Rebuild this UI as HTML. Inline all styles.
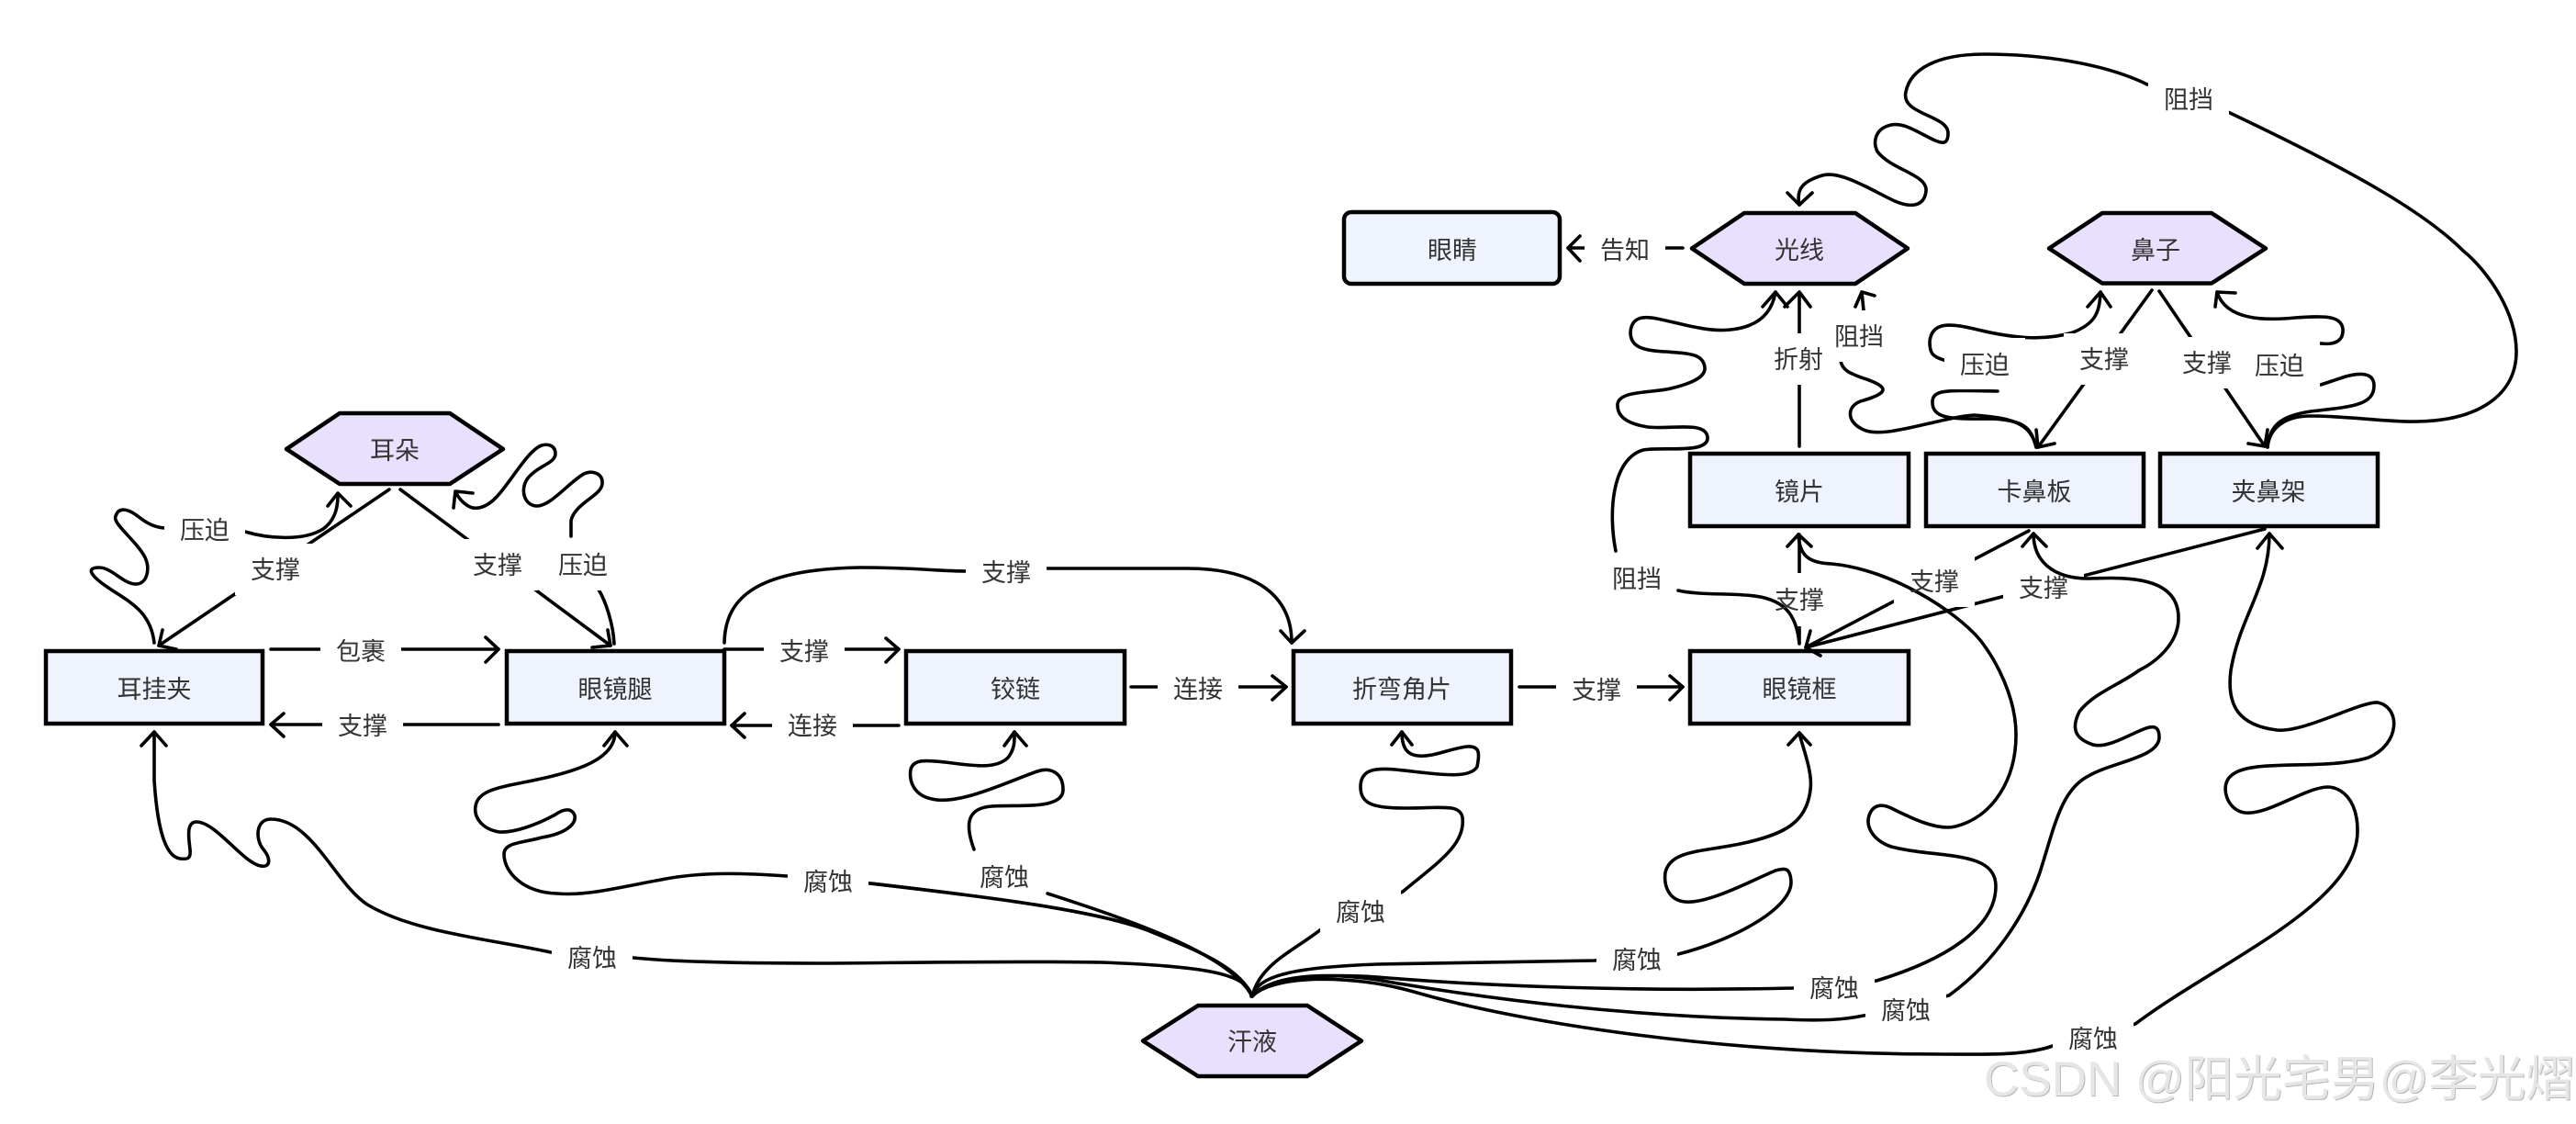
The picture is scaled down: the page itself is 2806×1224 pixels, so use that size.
<!DOCTYPE html>
<html><head><meta charset="utf-8">
<style>
html,body{margin:0;padding:0;background:#fff;width:2806px;height:1224px;overflow:hidden}
svg{display:block}
.e{fill:none;stroke:#000;stroke-width:3.6;stroke-linecap:round;stroke-linejoin:round}
.r{fill:#eff3fe;stroke:#000;stroke-width:4.5}
.h{fill:#e8e0fd;stroke:#000;stroke-width:4.5;stroke-linejoin:round}
text{font-family:"Liberation Sans","Noto Sans CJK SC",sans-serif;font-size:27px;fill:#333;text-anchor:middle}
.b{fill:#fff}
</style></head><body>
<svg width="2806" height="1224" viewBox="0 0 2806 1224" xmlns="http://www.w3.org/2000/svg">
<rect width="2806" height="1224" fill="#fff"/>
<g id="nodes">
<rect class="r" x="50" y="709" width="236" height="79"/>
<rect class="r" x="552" y="709" width="237" height="79"/>
<rect class="r" x="987" y="709" width="238" height="79"/>
<rect class="r" x="1409" y="709" width="237" height="79"/>
<rect class="r" x="1841" y="709" width="238" height="79"/>
<rect class="r" x="1841" y="494" width="238" height="79"/>
<rect class="r" x="2098" y="494" width="237" height="79"/>
<rect class="r" x="2353" y="494" width="237" height="79"/>
<rect class="r" x="1464" y="231" width="235" height="78" rx="8"/>
<polygon class="h" points="312,489 370,450 490,450 548,489 490,527 370,527"/>
<polygon class="h" points="1843,270.5 1900,232 2021,232 2078,270.5 2021,309 1900,309"/>
<polygon class="h" points="2232,270.5 2290,232 2409,232 2468,270.5 2409,308.5 2290,308.5"/>
<polygon class="h" points="1245,1133.5 1305,1095 1424,1095 1483,1133.5 1424,1172 1305,1172"/>
</g>
<g id="edges" class="e">
<path d="M168,700 C164,665 140,655 118,640 C100,628 92,618 108,618 C122,618 134,636 148,636 C160,636 164,620 158,607 C148,588 122,570 126,562 C130,550 142,556 150,562 C160,570 168,574 179,575 C200,578 240,572 267,579 C290,586 330,590 352,576 C366,566 368,550 368,540"/>
<path d="M357,551 L368,537 L382,551"/>
<path d="M424,533 L173,703"/><path d="M177,686 L173,703 L192,707"/>
<path d="M436,533 L665,703"/><path d="M662,686 L665,703 L645,705"/>
<path d="M669,701 C668,680 660,655 652,642 M622,584 L622,567 C626,548 655,540 656,527 C657,515 645,512 636,516 C620,525 600,551 585,551 C572,551 566,535 574,522 C585,507 605,505 605,494 C605,485 597,483 590,485 C575,490 555,527 541,541 C530,553 518,556 510,551 C503,547 498,540 497,536"/>
<path d="M494,553 L496,535 L515,537"/>
<path d="M295,707 L543,707"/><path d="M529,694 L543,707 L529,721"/>
<path d="M543,789 L295,789"/><path d="M309,777 L295,789 L309,802"/>
<path d="M789,707 L979,707"/><path d="M965,695 L979,707 L965,721"/>
<path d="M979,790 L797,790"/><path d="M811,777 L797,790 L811,803"/>
<path d="M1232,748 L1401,748"/><path d="M1386,736 L1401,748 L1386,762"/>
<path d="M1655,748 L1833,748"/><path d="M1819,736 L1833,748 L1819,762"/>
<path d="M789,700 C790,650 825,620 936,618 C1000,618 1020,622 1052,622 L1140,619 L1293,619 C1370,619 1407,650 1407,700"/>
<path d="M1395,687 L1407,700 L1421,687"/>
<path d="M2470,487 C2472,465 2490,453 2517,453 C2560,453 2600,460 2633,459 C2700,458 2741,430 2741,383 C2741,340 2710,295 2683,273 C2640,230 2560,185 2427,122 M2339,92 C2290,68 2220,59 2162,59 C2110,59 2081,75 2076,100 C2070,125 2122,125 2122,145 C2122,158 2115,156 2108,153 C2090,145 2075,133 2060,136 C2042,140 2040,155 2045,165 C2060,185 2100,190 2098,208 C2096,226 2080,226 2064,219 C2040,208 2005,185 1985,191 C1965,197 1956,205 1960,223"/>
<path d="M1947,210 L1960,223 L1974,210"/>
<path d="M1760,600 C1752,560 1755,500 1790,490 C1810,486 1862,495 1860,476 C1858,458 1820,468 1795,465 C1775,462 1761,455 1762,440 C1764,425 1800,428 1820,423 C1845,417 1858,410 1857,400 C1855,385 1840,385 1815,383 C1790,382 1776,378 1776,362 C1777,345 1790,344 1805,347 C1830,352 1860,362 1885,359 C1925,355 1932,330 1934,318"/>
<path d="M1920,334 L1934,318 L1947,334"/>
<path d="M1960,486 L1960,318"/><path d="M1944,334 L1960,318 L1972,334"/>
<path d="M2218,487 C2212,460 2190,455 2150,452 C2110,455 2050,480 2028,467 C2010,458 2012,440 2030,436 C2050,430 2055,425 2048,420 C2035,410 2005,410 2005,391 M2030,338 L2028,318"/>
<path d="M2021,334 L2028,318 L2042,322"/>
<path d="M2218,487 C2212,465 2205,458 2170,456 C2130,456 2104,458 2105,437 C2106,424 2120,425 2176,426 M2117,392 C2105,388 2102,385 2102,372 C2104,350 2125,352 2150,358 C2190,368 2225,372 2258,362 C2283,352 2287,340 2288,318"/>
<path d="M2274,334 L2288,318 L2299,334"/>
<path d="M2344,316 L2220,487"/><path d="M2218,468 L2220,487 L2238,483"/>
<path d="M2352,317 L2467,486"/><path d="M2449,483 L2467,486 L2470,468"/>
<path d="M2470,487 C2472,460 2490,452 2517,448 C2560,443 2586,442 2586,420 C2586,405 2570,406 2555,410 L2528,419 M2528,374 C2545,376 2553,370 2552,358 C2550,343 2530,344 2500,346 C2470,349 2425,350 2415,318"/>
<path d="M2413,334 L2415,318 L2435,319"/>
<path d="M1833,270 L1708,270"/><path d="M1721,257 L1708,270 L1721,284"/>
<path d="M1960,582 L1960,700"/>
<path d="M2210,578 L1967,705"/>
<path d="M2467,576 L1967,705"/>
<path d="M1972,687 L1967,705 L1983,714"/>
<path d="M1363,1085 C1360,1060 1310,1052 1200,1048 C1100,1046 950,1049 893,1049 C800,1049 730,1047 690,1043 L600,1037 C530,1022 450,1015 400,985 C365,962 340,892 295,892 C278,892 278,915 287,925 C295,935 295,945 284,943 C265,940 235,895 214,895 C202,895 206,915 207,925 C208,935 205,936 196,935 C175,932 170,880 168,850 L168,797"/>
<path d="M154,812 L168,797 L181,812"/>
<path d="M1364,1085 C1350,1050 1290,1030 1250,1013 C1190,990 1060,975 948,962 L857,954 C800,950 760,950 720,958 C680,965 640,976 607,973 C570,972 549,950 549,930 C549,917 570,918 590,912 C615,908 628,898 626,888 C623,880 615,880 605,887 C585,898 560,907 544,906 C525,903 516,890 518,878 C520,862 540,858 570,852 C620,842 670,830 670,797"/>
<path d="M658,812 L670,797 L683,812"/>
<path d="M1364,1085 C1340,1040 1240,1005 1141,973 M1061,925 C1050,895 1055,880 1080,878 C1110,876 1158,882 1158,860 C1158,842 1145,835 1130,840 C1105,848 1045,878 1015,870 C995,866 990,850 992,838 C995,826 1010,828 1030,830 C1060,834 1085,838 1098,825 C1106,815 1105,805 1105,797"/>
<path d="M1094,812 L1105,797 L1118,812"/>
<path d="M1364,1085 C1372,1050 1410,1035 1439,1012 L1528,971 C1565,940 1597,920 1593,890 C1590,875 1570,880 1530,880 C1495,880 1482,875 1482,857 C1482,838 1497,836 1520,838 C1560,842 1600,850 1609,835 C1612,820 1612,812 1598,813 C1580,815 1560,825 1545,823 C1530,822 1527,810 1527,797"/>
<path d="M1516,811 L1527,797 L1538,811"/>
<path d="M1364,1085 C1370,1060 1420,1053 1500,1050 L1737,1046 L1828,1039 C1885,1025 1952,990 1951,960 C1950,945 1945,945 1934,948 C1910,958 1860,985 1835,982 C1818,980 1812,965 1814,950 C1820,925 1855,928 1900,918 C1945,908 1968,895 1972,860 C1975,840 1962,810 1960,798"/>
<path d="M1948,811 L1960,798 L1972,811"/>
<path d="M1364,1085 C1380,1064 1440,1060 1500,1064 C1620,1074 1780,1080 1953,1076 L2044,1068 C2120,1045 2174,1010 2174,965 C2174,925 2110,935 2060,922 C2040,915 2032,900 2036,888 C2040,876 2050,875 2060,880 C2080,890 2110,905 2130,900 C2170,890 2196,850 2196,800"/>
<path d="M1364,1085 C1385,1062 1440,1058 1500,1067 C1620,1088 1780,1108 1944,1110 C1990,1112 2010,1110 2030,1106 L2123,1084 C2170,1050 2205,1000 2222,950 C2238,900 2245,860 2275,845 C2300,830 2352,825 2352,803 C2352,790 2345,790 2335,794 C2315,802 2295,815 2280,811 C2262,805 2255,795 2265,775 C2280,755 2310,745 2330,730"/>
<path d="M1364,1085 C1385,1062 1470,1060 1540,1080 C1660,1115 1880,1148 2116,1148 C2160,1148 2205,1150 2236,1139 L2326,1115 C2415,1048 2568,985 2568,905 C2568,870 2550,857 2535,857 C2510,858 2470,888 2445,885 C2425,882 2418,855 2430,845 C2450,825 2530,840 2580,825 C2615,810 2615,770 2590,765 C2570,764 2510,798 2480,795 C2440,790 2425,770 2430,730 C2440,670 2472,640 2472,581"/>
<path d="M2459,597 L2472,581 L2486,597"/>
</g>
<g id="boxes" class="b">
<rect x="179" y="549" width="88" height="56"/>
<rect x="256" y="592" width="88" height="56"/>
<rect x="498" y="587" width="88" height="56"/>
<rect x="591" y="587" width="88" height="56"/>
<rect x="349" y="681" width="88" height="56"/>
<rect x="351" y="762" width="88" height="56"/>
<rect x="832" y="681" width="88" height="56"/>
<rect x="841" y="762" width="88" height="56"/>
<rect x="1261" y="722" width="88" height="56"/>
<rect x="1695" y="722" width="88" height="56"/>
<rect x="1052" y="595" width="88" height="56"/>
<rect x="1726" y="244" width="88" height="56"/>
<rect x="2340" y="80" width="88" height="56"/>
<rect x="1915" y="363" width="88" height="56"/>
<rect x="1981" y="338" width="88" height="56"/>
<rect x="2118" y="368" width="88" height="56"/>
<rect x="2248" y="363" width="88" height="56"/>
<rect x="2360" y="367" width="88" height="56"/>
<rect x="2439" y="371" width="88" height="56"/>
<rect x="1739" y="602" width="88" height="56"/>
<rect x="1916" y="624" width="88" height="58"/>
<rect x="2063" y="605" width="88" height="56"/>
<rect x="2182" y="612" width="88" height="56"/>
<rect x="601" y="1015" width="88" height="56"/>
<rect x="858" y="932" width="88" height="56"/>
<rect x="1050" y="927" width="88" height="56"/>
<rect x="1438" y="965" width="88" height="56"/>
<rect x="1739" y="1017" width="88" height="56"/>
<rect x="1954" y="1048" width="88" height="56"/>
<rect x="2032" y="1072" width="88" height="56"/>
<rect x="2236" y="1103" width="88" height="56"/>
</g>
<g class="e">
<path d="M1960,701 C1957,670 1945,650 1900,648 C1880,646 1850,648 1828,643"/>
<path d="M1250,1013 C1190,990 1060,975 948,962"/>
<path d="M1959,582 C1960,605 1970,613 1995,614 C2060,620 2130,665 2157,697 C2175,720 2196,760 2196,800"/>
<path d="M1947,595 L1959,582 L1973,595"/>
<path d="M2215,581 C2215,610 2235,630 2275,630 C2310,629 2373,625 2373,673 C2373,700 2350,720 2330,730"/>
<path d="M2203,595 L2215,581 L2229,595"/>
</g>
<g id="labels">
<text x="223" y="587">压迫</text>
<text x="300" y="630">支撑</text>
<text x="542" y="625">支撑</text>
<text x="635" y="625">压迫</text>
<text x="393" y="719">包裹</text>
<text x="395" y="800">支撑</text>
<text x="876" y="719">支撑</text>
<text x="885" y="800">连接</text>
<text x="1305" y="760">连接</text>
<text x="1739" y="761">支撑</text>
<text x="1096" y="633">支撑</text>
<text x="1770" y="282">告知</text>
<text x="2384" y="118">阻挡</text>
<text x="1959" y="401">折射</text>
<text x="2025" y="376">阻挡</text>
<text x="2162" y="407">压迫</text>
<text x="2292" y="401">支撑</text>
<text x="2404" y="405">支撑</text>
<text x="2483" y="408">压迫</text>
<text x="1783" y="640">阻挡</text>
<text x="1960" y="663">支撑</text>
<text x="2107" y="643">支撑</text>
<text x="2226" y="650">支撑</text>
<text x="645" y="1053">腐蚀</text>
<text x="902" y="970">腐蚀</text>
<text x="1094" y="965">腐蚀</text>
<text x="1482" y="1003">腐蚀</text>
<text x="1783" y="1055">腐蚀</text>
<text x="1998" y="1086">腐蚀</text>
<text x="2076" y="1110">腐蚀</text>
<text x="2280" y="1141">腐蚀</text>
<text x="430" y="500">耳朵</text>
<text x="168" y="760">耳挂夹</text>
<text x="670" y="760">眼镜腿</text>
<text x="1106" y="760">铰链</text>
<text x="1527" y="760">折弯角片</text>
<text x="1960" y="760">眼镜框</text>
<text x="1960" y="545">镜片</text>
<text x="2216" y="545">卡鼻板</text>
<text x="2471" y="545">夹鼻架</text>
<text x="1582" y="282">眼睛</text>
<text x="1960" y="282">光线</text>
<text x="2348" y="282">鼻子</text>
<text x="1364" y="1144">汗液</text>
</g>
<text x="2161" y="1193" style="text-anchor:start;font-size:53px;fill:#e6e6e6;filter:drop-shadow(1px 1px 0 #b8b8b8)">CSDN @阳光宅男@李光熠</text>
</svg>
</body></html>
